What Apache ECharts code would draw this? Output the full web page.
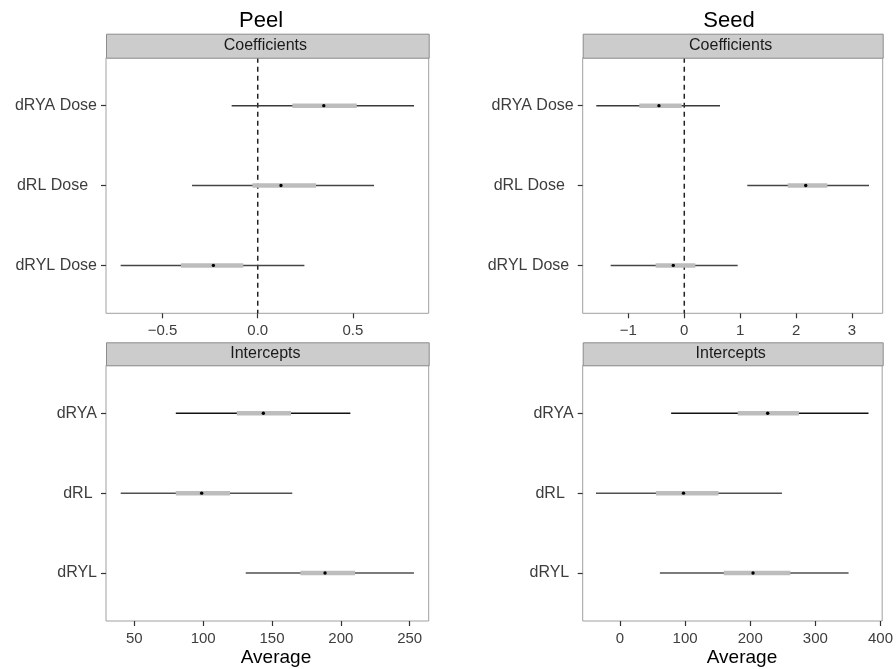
<!DOCTYPE html>
<html>
<head>
<meta charset="utf-8">
<script src="https://cdn.jsdelivr.net/npm/echarts@6/dist/echarts.min.js"></script>
<style>html,body{margin:0;padding:0;background:#fff}#c{width:896px;height:669px}</style>
</head>
<body>
<div id="c"></div>
<script>
// ---- data ----
const coefCategories = ['dRYA Dose', 'dRL Dose  ', 'dRYL Dose'];
const seedCoefCategories = ['dRYA Dose', 'dRL Dose  ', 'dRYL Dose '];
const interCategories = ['dRYA', 'dRL ', 'dRYL'];
const seedInterCategories = ['dRYA', 'dRL  ', 'dRYL '];
// each row: [low95, low50, median, high50, high95]
const peelCoef = [
  [-0.137, 0.182, 0.347, 0.520, 0.821],
  [-0.345, -0.028, 0.122, 0.306, 0.611],
  [-0.720, -0.403, -0.233, -0.076, 0.245]
];
const seedCoef = [
  [-1.574, -0.805, -0.453, -0.047, 0.639],
  [1.127, 1.850, 2.172, 2.558, 3.304],
  [-1.317, -0.512, -0.197, 0.197, 0.955]
];
const peelInter = [
  [80.1, 124.4, 143.7, 163.8, 206.9],
  [40.1, 80.1, 98.9, 119.5, 164.7],
  [130.9, 170.6, 188.5, 210.3, 253.1]
];
const seedInter = [
  [78.6, 180.8, 226.8, 274.8, 381.6],
  [-36.8, 55.2, 97.6, 151.3, 248.7],
  [61.3, 159.4, 204.3, 261.6, 351.0]
];
const peelCoefTicks = [-0.5, 0, 0.5];
const seedCoefTicks = [-1, 0, 1, 2, 3];
const peelInterTicks = [50, 100, 150, 200, 250];
const seedInterTicks = [0, 100, 200, 300, 400];
const panelTitles = ['Peel', 'Seed'];
const stripLabels = ['Coefficients', 'Intercepts'];
const xTitle = 'Average';

// ---- layout ----
const FONT = '"Liberation Sans", Arial, sans-serif';
const panels = [
  {cats: coefCategories, data: peelCoef, ticks: peelCoefTicks, min: -0.797, max: 0.898, left: 106, top: 57.7, width: 322.7, height: 255.6, dec: 1, zero: true, colors: ['#3a3a3a','#454545','#454545']},
  {cats: seedCoefCategories, data: seedCoef, ticks: seedCoefTicks, min: -1.817, max: 3.549, left: 582.7, top: 57.7, width: 300, height: 255.6, dec: 0, zero: true, colors: ['#3a3a3a','#454545','#454545']},
  {cats: interCategories, data: peelInter, ticks: peelInterTicks, min: 29.4, max: 263.8, left: 106, top: 365.3, width: 322.7, height: 255.7, dec: 0, zero: false, colors: ['#111111','#505050','#505050']},
  {cats: seedInterCategories, data: seedInter, ticks: seedInterTicks, min: -57.2, max: 402.6, left: 582.7, top: 365.3, width: 300, height: 255.7, dec: 0, zero: false, colors: ['#111111','#505050','#505050']}
];

function fmtNum(v, dec) {
  const s = Math.abs(v).toFixed(dec);
  return (v < 0 ? '\u2212' : '') + s;
}

const grids = [], xAxes = [], yAxes = [], series = [], graphics = [];
panels.forEach((p, i) => {
  grids.push({left: p.left, top: p.top, width: p.width, height: p.height, show: true, borderColor: '#a0a0a0', borderWidth: 1, backgroundColor: '#fff', containLabel: false});
  xAxes.push({
    type: 'value', gridIndex: i, min: p.min, max: p.max, position: 'bottom',
    axisLine: {show: false, onZero: false}, splitLine: {show: false},
    axisTick: {show: true, length: 5, lineStyle: {color: '#333', width: 1.2}, customValues: p.ticks},
    axisLabel: {show: true, customValues: p.ticks, color: '#3d3d3d', fontSize: 15, fontFamily: FONT, margin: 10,
      formatter: v => fmtNum(v, p.dec)}
  });
  const cats = p.cats;
  yAxes.push({
    type: 'value', gridIndex: i, min: 0.4, max: 3.6, inverse: true, position: 'left',
    axisLine: {show: false, onZero: false}, splitLine: {show: false},
    axisTick: {show: true, length: 5, lineStyle: {color: '#333', width: 1.2}, customValues: [1, 2, 3]},
    axisLabel: {show: true, customValues: [1, 2, 3], color: '#3d3d3d', fontSize: 16, fontFamily: FONT, margin: 9,
      formatter: v => cats[Math.round(v) - 1] || ''}
  });
  if (p.zero) {
    series.push({
      type: 'line', xAxisIndex: i, yAxisIndex: i, data: [[0, 0.4], [0, 3.6]],
      symbol: 'none', silent: true, z: 1,
      lineStyle: {color: '#222', width: 1.5, type: [5, 4]}
    });
  }
  const rows = p.data.map((r, k) => [k + 1, r[0], r[1], r[2], r[3], r[4]]);
  series.push({
    type: 'custom', xAxisIndex: i, yAxisIndex: i, z: 2, silent: true,
    data: rows,
    encode: {x: [1, 2, 3, 4, 5], y: 0},
    renderItem: function (params, api) {
      const y = api.value(0);
      const a = api.coord([api.value(1), y]);
      const b = api.coord([api.value(2), y]);
      const m = api.coord([api.value(3), y]);
      const c = api.coord([api.value(4), y]);
      const d = api.coord([api.value(5), y]);
      const col = p.colors[params.dataIndex];
      return {type: 'group', children: [
        {type: 'line', shape: {x1: a[0], y1: a[1], x2: d[0], y2: d[1]}, style: {stroke: col, lineWidth: 1.5}},
        {type: 'line', shape: {x1: b[0], y1: b[1], x2: c[0], y2: c[1]}, style: {stroke: '#bdbdbd', lineWidth: 4.5}},
        {type: 'circle', shape: {cx: m[0], cy: m[1], r: 1.7}, style: {fill: '#000'}}
      ]};
    }
  });
  // strip
  const stripH = i < 2 ? 24 : 23;
  graphics.push({
    type: 'rect', left: p.left, top: p.top - stripH, z: 10,
    shape: {width: p.width, height: stripH},
    style: {fill: '#cccccc', stroke: '#8c8c8c', lineWidth: 1}
  });
  graphics.push({
    type: 'text', x: p.left + p.width / 2 - 2, y: p.top - stripH / 2, z: 11,
    style: {text: stripLabels[i < 2 ? 0 : 1], fill: '#1a1a1a', font: '16px ' + FONT, textAlign: 'center', textVerticalAlign: 'middle'}
  });
});

graphics.push({type: 'text', x: 261, y: 21, style: {text: panelTitles[0], fill: '#000', font: '22px ' + FONT, textAlign: 'center', textVerticalAlign: 'middle'}});
graphics.push({type: 'text', x: 729, y: 21, style: {text: panelTitles[1], fill: '#000', font: '22px ' + FONT, textAlign: 'center', textVerticalAlign: 'middle'}});
graphics.push({type: 'text', x: 276, y: 658, style: {text: xTitle, fill: '#000', font: '19px ' + FONT, textAlign: 'center', textVerticalAlign: 'middle'}});
graphics.push({type: 'text', x: 742, y: 658, style: {text: xTitle, fill: '#000', font: '19px ' + FONT, textAlign: 'center', textVerticalAlign: 'middle'}});

const chart = echarts.init(document.getElementById('c'), null, {renderer: 'canvas'});
chart.setOption({
  animation: false,
  backgroundColor: '#fff',
  grid: grids, xAxis: xAxes, yAxis: yAxes, series: series,
  graphic: graphics
});
</script>
</body>
</html>
